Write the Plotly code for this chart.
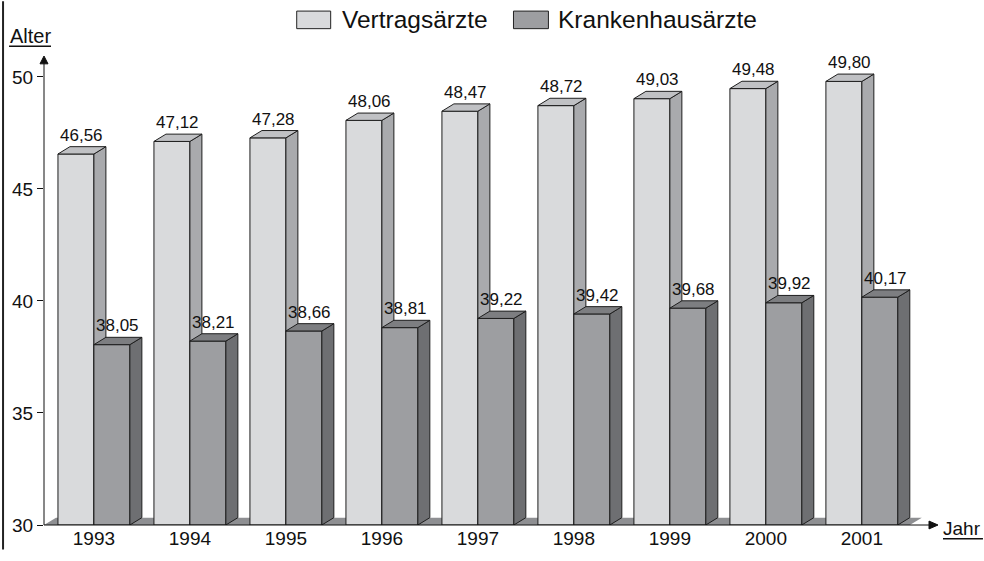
import plotly.graph_objects as go

years = ["1993", "1994", "1995", "1996", "1997", "1998", "1999", "2000", "2001"]
vertragsaerzte = [46.56, 47.12, 47.28, 48.06, 48.47, 48.72, 49.03, 49.48, 49.80]
krankenhausaerzte = [38.05, 38.21, 38.66, 38.81, 39.22, 39.42, 39.68, 39.92, 40.17]
series_names = ["Vertragsärzte", "Krankenhausärzte"]
y_ticks = [30, 35, 40, 45, 50]

W, H = 984, 561
L, R, T, B = 43, 940, 57, 536          # plot area in pixels
X0, X1 = -0.52, 8.814                  # x range (category index units)
Y0 = 30
PX_PER_Y = 22.93
Y1 = Y0 + (B - T) / PX_PER_Y
PX_PER_X = (R - L) / (X1 - X0)

BAR_W = 36 / PX_PER_X
DX = 12 / PX_PER_X
DY = 7.5 / PX_PER_Y

FONT = "Liberation Sans, Arial, sans-serif"
EDGE = "#1e1e1e"

light = dict(front="#d9dadc", side="#a9aaad", top="#c0c1c4")
dark = dict(front="#9d9ea1", side="#6e6f72", top="#7d7e81")
floor_col = "#8e8f92"


def fmt(v):
    return f"{v:.2f}".replace(".", ",")


def px2x(px):
    return (px - L) / (R - L)


def px2y(py):
    return (B - py) / (B - T)


def poly_trace(polys, color):
    xs, ys = [], []
    for p in polys:
        for (a, b) in p:
            xs.append(a)
            ys.append(b)
        xs.append(p[0][0])
        ys.append(p[0][1])
        xs.append(None)
        ys.append(None)
    return go.Scatter(x=xs, y=ys, mode="lines", fill="toself", fillcolor=color,
                      line=dict(color=EDGE, width=1), hoverinfo="skip",
                      showlegend=False)


fig = go.Figure()

n = len(years)
# floor
last_right = (n - 1) + BAR_W
floor = [(X0, Y0), (last_right + DX, Y0), (last_right + 2 * DX, Y0 + DY), (X0 + DX, Y0 + DY)]
fig.add_trace(go.Scatter(x=[p[0] for p in floor] + [floor[0][0]],
                         y=[p[1] for p in floor] + [floor[0][1]],
                         mode="lines", fill="toself", fillcolor=floor_col,
                         line=dict(color=floor_col, width=0), hoverinfo="skip",
                         showlegend=False))


def bar_polys(x_left, v):
    xr = x_left + BAR_W
    front = [(x_left, Y0), (xr, Y0), (xr, v), (x_left, v)]
    side = [(xr, Y0), (xr + DX, Y0 + DY), (xr + DX, v + DY), (xr, v)]
    top = [(x_left, v), (xr, v), (xr + DX, v + DY), (x_left + DX, v + DY)]
    return front, side, top


for vals, col, off in [(vertragsaerzte, light, -BAR_W), (krankenhausaerzte, dark, 0.0)]:
    fr, sd, tp = [], [], []
    for i, v in enumerate(vals):
        f, s, t = bar_polys(i + off, v)
        fr.append(f)
        sd.append(s)
        tp.append(t)
    fig.add_trace(poly_trace(fr, col["front"]))
    fig.add_trace(poly_trace(sd, col["side"]))
    fig.add_trace(poly_trace(tp, col["top"]))

annotations = []
for vals, off in [(vertragsaerzte, -BAR_W), (krankenhausaerzte, 0.0)]:
    for i, v in enumerate(vals):
        annotations.append(dict(x=i + off + BAR_W / 2 + DX / 2, y=v + DY, xref="x", yref="y",
                                text=fmt(v), showarrow=False, yanchor="bottom",
                                xanchor="center", yshift=0,
                                font=dict(family=FONT, size=17, color="#111")))

# axis titles
annotations.append(dict(x=px2x(7), y=px2y(35), xref="paper", yref="paper", text="Alter",
                        showarrow=False, xanchor="left", yanchor="middle",
                        font=dict(family=FONT, size=20, color="#111")))
annotations.append(dict(x=px2x(941), y=px2y(540), xref="paper", yref="paper", text="Jahr",
                        showarrow=False, xanchor="left", yanchor="middle",
                        font=dict(family=FONT, size=19, color="#111")))

shapes = []
# underlines
shapes.append(dict(type="line", xref="paper", yref="paper", x0=px2x(8), x1=px2x(50),
                   y0=px2y(46), y1=px2y(46), line=dict(color="#111", width=1.5)))
shapes.append(dict(type="line", xref="paper", yref="paper", x0=px2x(943), x1=px2x(983),
                   y0=px2y(550), y1=px2y(550), line=dict(color="#111", width=1.5)))
# left border
shapes.append(dict(type="line", xref="paper", yref="paper", x0=px2x(2), x1=px2x(2),
                   y0=px2y(0), y1=px2y(H), line=dict(color="#222", width=2)))
# axis lines with arrows
shapes.append(dict(type="line", xref="paper", yref="paper", x0=0, x1=0,
                   y0=0, y1=px2y(62), line=dict(color="#111", width=1)))
shapes.append(dict(type="path", xref="paper", yref="paper",
                   path=f"M {px2x(39)} {px2y(64)} L {px2x(43)} {px2y(56)} L {px2x(47)} {px2y(64)} Z",
                   fillcolor="#111", line=dict(color="#111", width=1)))
shapes.append(dict(type="line", xref="paper", yref="paper", x0=0, x1=px2x(931),
                   y0=0, y1=0, line=dict(color="#111", width=1)))
shapes.append(dict(type="path", xref="paper", yref="paper",
                   path=f"M {px2x(929)} {px2y(532)} L {px2x(938)} {px2y(536)} L {px2x(929)} {px2y(540)} Z",
                   fillcolor="#111", line=dict(color="#111", width=1)))

# legend
leg = [(296, 330, light["front"], 339), (513, 548, dark["front"], 556)]
for (xa, xb, c, tx), name in zip(leg, series_names):
    shapes.append(dict(type="rect", xref="paper", yref="paper", x0=px2x(xa), x1=px2x(xb),
                       y0=px2y(28), y1=px2y(10), fillcolor=c, line=dict(color="#222", width=1)))
    annotations.append(dict(x=px2x(tx), y=px2y(19), xref="paper", yref="paper", text=name,
                            showarrow=False, xanchor="left", yanchor="middle",
                            font=dict(family=FONT, size=24.5, color="#111")))

fig.update_layout(
    width=W, height=H, autosize=False,
    margin=dict(l=L, r=W - R, t=T, b=H - B, pad=0),
    paper_bgcolor="white", plot_bgcolor="white",
    showlegend=False,
    annotations=annotations,
    shapes=shapes,
    xaxis=dict(range=[X0, X1], tickvals=list(range(n)), ticktext=years, showgrid=False,
               zeroline=False, showline=False, ticks="",
               tickfont=dict(family=FONT, size=19, color="#111")),
    yaxis=dict(range=[Y0, Y1], tickvals=y_ticks, ticktext=[str(t) for t in y_ticks],
               showgrid=False, zeroline=False, showline=False, ticks="outside",
               ticklen=6, tickcolor="#111", tickwidth=1,
               tickfont=dict(family=FONT, size=19, color="#111")),
)

fig.write_html("out.html",
               config={"displayModeBar": False, "responsive": False},
               post_script="document.body.style.margin='0px';document.body.style.overflow='hidden';")
